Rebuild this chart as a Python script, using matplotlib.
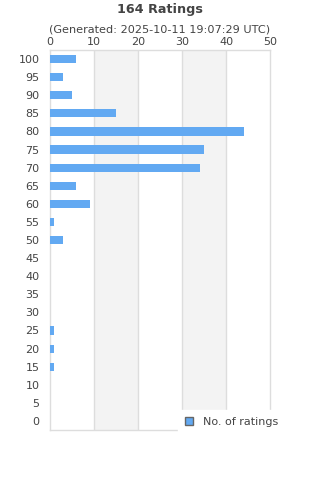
import matplotlib
matplotlib.use("Agg")
import matplotlib.pyplot as plt
from matplotlib.patches import Patch

categories = [100, 95, 90, 85, 80, 75, 70, 65, 60, 55, 50, 45, 40, 35, 30, 25, 20, 15, 10, 5, 0]
counts = [6, 3, 5, 15, 44, 35, 34, 6, 9, 1, 3, 0, 0, 0, 0, 1, 1, 1, 0, 0, 0]
xticks = [0, 10, 20, 30, 40, 50]

W, H = 320, 480
fig = plt.figure(figsize=(3.2, 4.8), dpi=100)
ax = fig.add_axes([50 / W, 1 - 430 / H, 220 / W, 380 / H])

txt = "#444444"
grid = "#dddddd"
ypos = list(range(len(categories)))
ax.barh(ypos, counts, height=0.45, color="#62a9f2", zorder=3)
ax.set_ylim(len(categories) - 0.5, -0.5)
ax.set_xlim(0, 50)
for a, b in [(10, 20), (30, 40)]:
    ax.axvspan(a, b, color="#f3f3f3", zorder=0, lw=0)
for x in xticks[1:-1]:
    ax.axvline(x, color=grid, lw=1, zorder=1)
ax.set_xticks(xticks)
ax.set_yticks(ypos)
ax.set_yticklabels([str(c) for c in categories])
ax.xaxis.tick_top()
ax.tick_params(axis="both", length=0, labelsize=8, colors=txt)
ax.tick_params(axis="y", pad=7.5)
ax.tick_params(axis="x", pad=2)
for s in ax.spines.values():
    s.set_color(grid)
    s.set_linewidth(1)

fig.text(160 / W, 1 - 10 / H, "164 Ratings", ha="center", va="center",
         fontsize=9.2, fontweight="bold", color=txt)
fig.text(160 / W, 1 - 29 / H, "(Generated: 2025-10-11 19:07:29 UTC)", ha="center",
         va="center", fontsize=8.1, color=txt)

handle = Patch(facecolor="#62a9f2", edgecolor="#666666", lw=1)
leg = fig.legend([handle], ["No. of ratings"], loc="upper left",
                 bbox_to_anchor=(178 / W, 1 - 410 / H), frameon=True,
                 fontsize=8, handlelength=0.75, handleheight=0.75,
                 handletextpad=0.9, borderpad=0.6, borderaxespad=0)
leg.get_frame().set_facecolor("white")
leg.get_frame().set_edgecolor("white")
leg.get_frame().set_alpha(1)
leg.get_frame().set_boxstyle("square", pad=0)
for t in leg.get_texts():
    t.set_color(txt)
leg.set_zorder(10)

fig.savefig("out.png", dpi=100)
